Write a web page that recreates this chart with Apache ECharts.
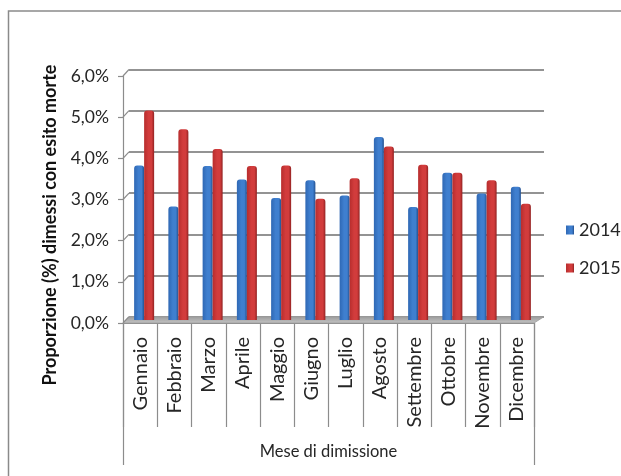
<!DOCTYPE html>
<html>
<head>
<meta charset="utf-8">
<script src="https://cdn.jsdelivr.net/npm/echarts@6/dist/echarts.min.js"></script>
<style>
  html, body { margin: 0; padding: 0; background: #ffffff; }
  #chart { width: 621px; height: 476px; }
</style>
</head>
<body>
<div id="chart"></div>
<script>
// Monthly share (%) of discharges with a fatal outcome
const months = ['Gennaio', 'Febbraio', 'Marzo', 'Aprile', 'Maggio', 'Giugno',
                'Luglio', 'Agosto', 'Settembre', 'Ottobre', 'Novembre', 'Dicembre'];
const rate2014 = [3.76, 2.76, 3.75, 3.42, 2.97, 3.40, 3.03, 4.45, 2.75, 3.58, 3.08, 3.24];
const rate2015 = [5.10, 4.64, 4.16, 3.75, 3.76, 2.95, 3.45, 4.22, 3.78, 3.58, 3.40, 2.83];
const seriesNames = ['2014', '2015'];
const yTicks = [0, 1, 2, 3, 4, 5, 6];
const xTitle = 'Mese di dimissione';
const yTitle = 'Proporzione (%) dimessi con esito morte';

const FONT = 'Lato, "Noto Sans", sans-serif';
const INK = '#262626';
const LINE = '#8c8c8c';

// Pseudo-3D layout: front plane (axes), middle plane (columns), back wall (gridlines)
const front = { left: 123, right: 534, top: 76, bottom: 323 };
const mid   = { left: 127, right: 538, top: 73.4, bottom: 320 };
const wall  = { left: 129, right: 544, top: 69.5, bottom: 316.7 };

function gridOf(r) {
  return { left: r.left, top: r.top, width: r.right - r.left, height: r.bottom - r.top, containLabel: false };
}
const pct = v => v.toFixed(1).replace('.', ',') + '%';

function barFill(c0, c1, c2) {
  return new echarts.graphic.LinearGradient(0, 0, 1, 0, [
    { offset: 0, color: c0 }, { offset: 0.45, color: c1 }, { offset: 0.75, color: c1 }, { offset: 1, color: c2 }
  ]);
}
const blueFill = barFill('#2f68b4', '#3f7fcf', '#23508f');
const redFill  = barFill('#b72d2d', '#d23c3c', '#922222');

const chart = echarts.init(document.getElementById('chart'), null, { renderer: 'canvas' });

chart.setOption({
  animation: false,
  backgroundColor: '#ffffff',
  textStyle: { fontFamily: FONT },
  grid: [gridOf(front), gridOf(mid), gridOf(wall)],
  xAxis: [
    {
      type: 'category', gridIndex: 0, data: months, position: 'bottom',
      axisLine: { show: true, lineStyle: { color: LINE, width: 1 } },
      axisTick: { show: true, interval: 0, length: 104, lineStyle: { color: LINE, width: 1.2 } },
      axisLabel: { interval: 0, rotate: 90, margin: 14, fontSize: 20, color: INK, fontFamily: FONT }
    },
    {
      type: 'category', gridIndex: 0, data: [xTitle], position: 'bottom',
      axisLine: { show: false },
      axisTick: { show: true, length: 142, lineStyle: { color: LINE, width: 1.2 } },
      axisLabel: { margin: 120, fontSize: 16.5, color: INK, fontFamily: FONT }
    },
    { type: 'category', gridIndex: 1, data: months, show: false },
    { type: 'category', gridIndex: 2, data: months, show: false }
  ],
  yAxis: [
    {
      type: 'value', gridIndex: 0, min: yTicks[0], max: yTicks[yTicks.length - 1], interval: 1,
      axisLine: { show: true, lineStyle: { color: LINE, width: 1.2 } },
      axisTick: { show: true, length: 5, lineStyle: { color: LINE, width: 1.2 } },
      axisLabel: { margin: 14, fontSize: 17.5, color: INK, fontFamily: FONT, formatter: pct },
      splitLine: { show: false }
    },
    { type: 'value', gridIndex: 1, min: 0, max: 6, show: false },
    {
      type: 'value', gridIndex: 2, min: 0, max: 6, interval: 1,
      axisLine: { show: false }, axisTick: { show: false }, axisLabel: { show: false },
      splitLine: { show: true, lineStyle: { color: '#939393', width: 2 } }
    }
  ],
  legend: {
    orient: 'vertical', left: 566, top: 221, padding: 0,
    itemWidth: 8, itemHeight: 9, itemGap: 20,
    icon: 'rect',
    textStyle: { fontSize: 18, color: INK, fontFamily: FONT, lineHeight: 18 },
    data: seriesNames
  },
  series: [
    {
      name: seriesNames[0], type: 'bar', xAxisIndex: 2, yAxisIndex: 1,
      data: rate2014, barWidth: 10, barGap: '0%', z: 3,
      itemStyle: { color: blueFill, borderRadius: [3, 3, 0, 0] }
    },
    {
      name: seriesNames[1], type: 'bar', xAxisIndex: 2, yAxisIndex: 1,
      data: rate2015, barWidth: 10, barGap: '0%', z: 3,
      itemStyle: { color: redFill, borderRadius: [3, 3, 0, 0] }
    }
  ]
});

// Decorations: outer frame, floor, side-wall tick joins, rotated value-axis title
const deco = [
  {
    type: 'rect', z: -10, silent: true,
    shape: { x: 8.5, y: 11, width: 700, height: 600 },
    style: { fill: 'none', stroke: '#8a8a8a', lineWidth: 1.5 }
  },
  {
    type: 'polygon', z: 1, silent: true,
    shape: { points: [[front.left, front.bottom], [front.right, front.bottom], [wall.right, wall.bottom], [wall.left, wall.bottom]] },
    style: {
      fill: new echarts.graphic.LinearGradient(0, 0, 0, 1, [{ offset: 0, color: '#9a9a9a' }, { offset: 1, color: '#c4c4c4' }]),
      stroke: '#9a9a9a', lineWidth: 0.8
    }
  },
  {
    type: 'text', z: 5, silent: true,
    x: 50, y: 225, rotation: Math.PI / 2,
    style: { text: yTitle, font: 'bold 18px ' + FONT, fill: '#111', align: 'center', verticalAlign: 'middle' }
  }
];
yTicks.forEach(t => {
  const yf = chart.convertToPixel({ yAxisIndex: 0 }, t);
  const yb = chart.convertToPixel({ yAxisIndex: 2 }, t);
  deco.push({
    type: 'line', z: 1, silent: true,
    shape: { x1: front.left, y1: yf, x2: wall.left, y2: yb },
    style: { stroke: LINE, lineWidth: 1.2 }
  });
});
chart.setOption({ graphic: deco });
</script>
</body>
</html>
